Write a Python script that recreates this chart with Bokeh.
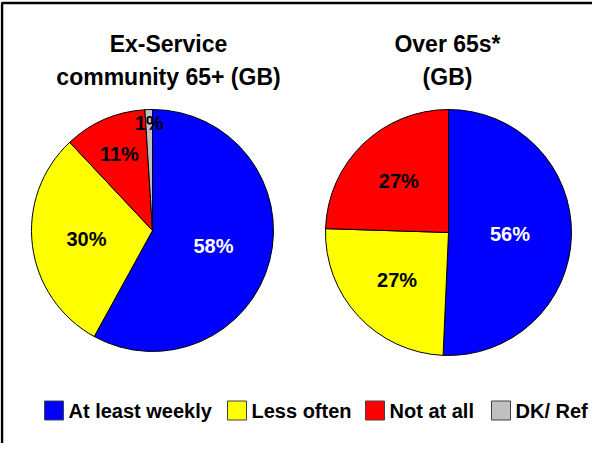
import numpy as np
from bokeh.plotting import figure
from bokeh.models import Range1d, ColumnDataSource
from bokeh.embed import file_html
from bokeh.resources import INLINE
from bokeh.core.properties import value

# ---- data ----
categories = ["At least weekly", "Less often", "Not at all", "DK/ Ref"]
colors = ["#0000FF", "#FFFF00", "#FF0000", "#C0C0C0"]
label_colors_ex = ["white", "black", "black", "black"]
exservice_values = [58, 30, 11, 1]
exservice_labels = ["58%", "30%", "11%", "1%"]
over65_values = [50.7, 24.8, 24.5]          # slice sizes as drawn
over65_labels = ["56%", "27%", "27%"]
label_colors_ov = ["white", "black", "black"]
title_ex = ["Ex-Service", "community 65+ (GB)"]
title_ov = ["Over 65s*", "(GB)"]

H = 459
def Y(v):
    return H - v

FONT = value("Liberation Sans")

# figure covers page pixels x 8..600, y 8..451
p = figure(width=592, height=443, output_backend="svg", toolbar_location=None,
           x_range=Range1d(8, 600), y_range=Range1d(Y(451), Y(8)), min_border=0)
p.axis.visible = False
p.grid.visible = False
p.outline_line_color = None
p.background_fill_color = "white"
p.border_fill_color = "white"

# frame border
p.line(x=[9.5, 9.5, 600], y=[Y(451), Y(10.5), Y(10.5)], line_color="black", line_width=2.5)


def pie(cx, cy, r, vals, labels, lcols, fracs):
    vals = np.array(vals, dtype=float)
    tot = vals.sum()
    cum = np.concatenate([[0], np.cumsum(vals) / tot])
    start = np.pi / 2 - 2 * np.pi * cum[:-1]
    end = np.pi / 2 - 2 * np.pi * cum[1:]
    src = ColumnDataSource(dict(start=start, end=end, color=colors[:len(vals)]))
    p.wedge(x=cx, y=Y(cy), radius=r, start_angle="start", end_angle="end",
            direction="clock", fill_color="color", line_color="black",
            line_width=1, source=src)
    mid = (start + end) / 2
    fr = np.array(fracs)
    lx = cx + r * fr * np.cos(mid)
    ly = Y(cy) + r * fr * np.sin(mid)
    lsrc = ColumnDataSource(dict(x=lx, y=ly, t=labels, c=lcols))
    p.text(x="x", y="y", text="t", text_color="c", source=lsrc,
           text_align="center", text_baseline="middle",
           text_font=FONT, text_font_style="bold", text_font_size="20px")


pie(160, 238, 121, exservice_values, exservice_labels, label_colors_ex,
    [0.52, 0.55, 0.69, 0.89])
pie(456, 240, 123, over65_values, over65_labels, label_colors_ov,
    [0.5, 0.57, 0.58])

# titles
for lines, cx in [(title_ex, 176), (title_ov, 455)]:
    p.text(x=[cx, cx], y=[Y(51), Y(84)], text=lines, text_align="center",
           text_baseline="middle", text_font=FONT, text_font_style="bold",
           text_font_size="23px", text_color="black")

# legend
sq_x = [52, 235, 373, 499]
sq = 19
ly = Y(418)
p.rect(x=[sx + sq / 2 for sx in sq_x], y=[ly] * 4, width=sq, height=sq,
       fill_color=colors, line_color="#404040", line_width=1)
p.text(x=[sx + sq + 5 for sx in sq_x], y=[ly] * 4, text=categories,
       text_align="left", text_baseline="middle", text_font=FONT,
       text_font_style="bold", text_font_size="20px", text_color="black")

open("out.html", "w").write(file_html(p, INLINE))
